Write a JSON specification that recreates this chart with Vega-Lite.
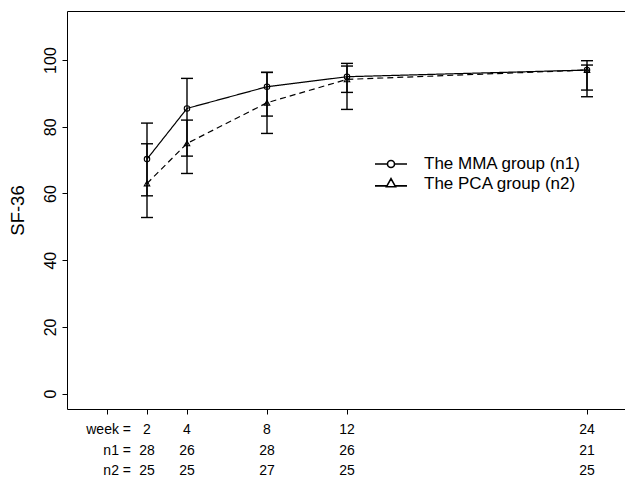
{
  "$schema": "https://vega.github.io/schema/vega-lite/v6.json",
  "padding": {"left": 7, "top": 10, "right": 0, "bottom": 0},
  "background": "white",
  "config": {
    "font": "Liberation Sans",
    "view": {"stroke": "black", "strokeWidth": 1},
    "axis": {"grid": false, "tickColor": "black", "labelColor": "black", "titleColor": "black", "domainColor": "black", "tickWidth": 1}
  },
  "spacing": 5,
  "datasets": {
    "stats": [
      {"week": 2, "group": "The MMA group (n1)", "mean": 70.3, "lo": 59.3, "hi": 81.1},
      {"week": 4, "group": "The MMA group (n1)", "mean": 85.5, "lo": 71.2, "hi": 94.5},
      {"week": 8, "group": "The MMA group (n1)", "mean": 92.0, "lo": 83.2, "hi": 96.3},
      {"week": 12, "group": "The MMA group (n1)", "mean": 95.0, "lo": 90.3, "hi": 99.0},
      {"week": 24, "group": "The MMA group (n1)", "mean": 97.0, "lo": 91.0, "hi": 99.8},
      {"week": 2, "group": "The PCA group (n2)", "mean": 63.0, "lo": 52.8, "hi": 74.9},
      {"week": 4, "group": "The PCA group (n2)", "mean": 75.0, "lo": 66.0, "hi": 82.0},
      {"week": 8, "group": "The PCA group (n2)", "mean": 87.2, "lo": 78.0, "hi": 96.3},
      {"week": 12, "group": "The PCA group (n2)", "mean": 94.2, "lo": 85.2, "hi": 98.2},
      {"week": 24, "group": "The PCA group (n2)", "mean": 97.0, "lo": 89.0, "hi": 98.5}
    ],
    "table": [
      {"week": 0, "row": "week", "label": "week =", "kind": "header"},
      {"week": 0, "row": "n1", "label": "n1 =", "kind": "header"},
      {"week": 0, "row": "n2", "label": "n2 =", "kind": "header"},
      {"week": 2, "row": "week", "label": "2", "kind": "value"},
      {"week": 4, "row": "week", "label": "4", "kind": "value"},
      {"week": 8, "row": "week", "label": "8", "kind": "value"},
      {"week": 12, "row": "week", "label": "12", "kind": "value"},
      {"week": 24, "row": "week", "label": "24", "kind": "value"},
      {"week": 2, "row": "n1", "label": "28", "kind": "value"},
      {"week": 4, "row": "n1", "label": "26", "kind": "value"},
      {"week": 8, "row": "n1", "label": "28", "kind": "value"},
      {"week": 12, "row": "n1", "label": "26", "kind": "value"},
      {"week": 24, "row": "n1", "label": "21", "kind": "value"},
      {"week": 2, "row": "n2", "label": "25", "kind": "value"},
      {"week": 4, "row": "n2", "label": "25", "kind": "value"},
      {"week": 8, "row": "n2", "label": "27", "kind": "value"},
      {"week": 12, "row": "n2", "label": "25", "kind": "value"},
      {"week": 24, "row": "n2", "label": "25", "kind": "value"}
    ]
  },
  "vconcat": [
    {
      "width": 560,
      "height": 398,
      "data": {"name": "stats"},
      "encoding": {
        "x": {"field": "week", "type": "quantitative",
              "scale": {"domain": [-2, 26], "nice": false, "zero": false},
              "axis": {"values": [0, 2, 4, 8, 12, 24], "labels": false, "title": null, "tickSize": 5, "domain": false}}
      },
      "layer": [
        {
          "mark": {"type": "rule", "color": "black", "strokeWidth": 1.4, "opacity": 1},
          "encoding": {
            "y": {"field": "lo", "type": "quantitative",
                  "scale": {"domain": [-4.6, 114.7], "nice": false, "zero": false},
                  "axis": {"title": "SF-36", "titleFontSize": 18.5, "titleFontWeight": "normal", "titlePadding": 15,
                           "values": [0, 20, 40, 60, 80, 100], "labelAngle": -90, "labelAlign": "center", "labelBaseline": "bottom",
                           "labelFontSize": 16, "labelPadding": 4, "tickSize": 5, "domain": false}},
            "y2": {"field": "hi"}
          }
        },
        {
          "mark": {"type": "tick", "orient": "horizontal", "color": "black", "size": 12, "thickness": 1.4, "opacity": 1},
          "encoding": {"y": {"field": "lo", "type": "quantitative"}}
        },
        {
          "mark": {"type": "tick", "orient": "horizontal", "color": "black", "size": 12, "thickness": 1.4, "opacity": 1},
          "encoding": {"y": {"field": "hi", "type": "quantitative"}}
        },
        {
          "mark": {"type": "line", "color": "black", "strokeWidth": 1.2},
          "encoding": {
            "y": {"field": "mean", "type": "quantitative"},
            "detail": {"field": "group"},
            "strokeDash": {"field": "group", "type": "nominal", "scale": {"range": [[1, 0], [6, 4]]}, "legend": null}
          }
        },
        {
          "mark": {"type": "point", "filled": false, "color": "black", "strokeWidth": 1.1, "size": 30, "opacity": 1},
          "encoding": {
            "y": {"field": "mean", "type": "quantitative"},
            "shape": {"field": "group", "type": "nominal", "scale": {"range": ["circle", "triangle-up"]}, "legend": null}
          }
        },
        {
          "mark": {"type": "point", "filled": false, "color": "black", "opacity": 0},
          "encoding": {
            "y": {"field": "mean", "type": "quantitative"},
            "shape": {"field": "group", "type": "nominal",
                      "scale": {"range": [
                        "M-2,0H-0.44M0.44,0H2M-0.44,0A0.44,0.44,0,1,0,0.44,0A0.44,0.44,0,1,0,-0.44,0",
                        "M-2,0.3H-0.56M0.56,0.3H2M0,-0.6L0.56,0.4L-0.56,0.4Z"
                      ]},
                      "legend": {"title": null, "orient": "none", "legendX": 315, "legendY": 144, "padding": 0,
                                 "symbolSize": 256, "symbolStrokeColor": "black", "symbolFillColor": "transparent",
                                 "symbolStrokeWidth": 1.6, "symbolOpacity": 1, "labelFontSize": 17, "labelColor": "black",
                                 "labelOffset": 24, "rowPadding": 2.5, "labelLimit": 300}}
          }
        }
      ],
      "resolve": {"scale": {"shape": "independent"}}
    },
    {
      "width": 560,
      "height": 61,
      "view": {"stroke": null},
      "data": {"name": "table"},
      "encoding": {
        "x": {"field": "week", "type": "quantitative", "scale": {"domain": [-2, 26], "nice": false, "zero": false}, "axis": null},
        "y": {"field": "row", "type": "ordinal", "sort": ["week", "n1", "n2"], "scale": {"type": "point", "padding": 0.5}, "axis": null},
        "text": {"field": "label"}
      },
      "layer": [
        {
          "transform": [{"filter": "datum.kind == 'value'"}],
          "mark": {"type": "text", "fontSize": 14, "align": "center", "baseline": "middle", "color": "black"}
        },
        {
          "transform": [{"filter": "datum.kind == 'header'"}],
          "mark": {"type": "text", "fontSize": 14, "align": "right", "baseline": "middle", "dx": 24, "color": "black"}
        }
      ]
    }
  ]
}
